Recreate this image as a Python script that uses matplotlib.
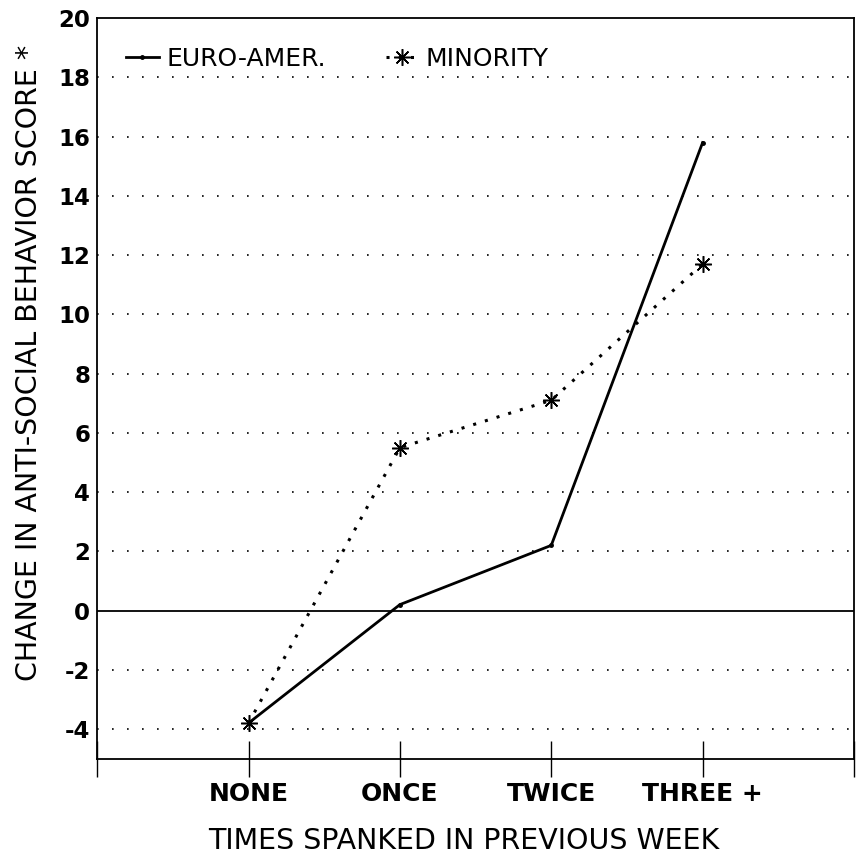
import matplotlib
matplotlib.use('Agg')
import matplotlib.pyplot as plt

# data
categories = ['NONE', 'ONCE', 'TWICE', 'THREE +']
euro_amer = [-3.8, 0.2, 2.2, 15.8]
minority = [-3.8, 5.5, 7.1, 11.7]
grid_levels = [-4, -2, 2, 4, 6, 8, 10, 12, 14, 16, 18]
y_ticks = [-4, -2, 0, 2, 4, 6, 8, 10, 12, 14, 16, 18, 20]

plt.rcParams['font.family'] = ['DejaVu Sans']

fig = plt.figure(figsize=(8.6, 8.66), dpi=100)
ax = fig.add_axes([0.113, 0.124, 0.880, 0.855])

x = list(range(1, len(categories) + 1))

# dotted grid, solid zero line
for g in grid_levels:
    ax.axhline(g, color='black', lw=1.2, ls=(0, (1, 8)), zorder=1)
ax.axhline(0, color='black', lw=1.3, zorder=1)

ax.plot(x, euro_amer, color='black', lw=2.0, marker='.', markersize=5,
        label='EURO-AMER.', zorder=3)
ax.plot(x, minority, color='black', lw=2.2, ls=(0, (1, 3)),
        marker=(8, 2, 0), markersize=12, markeredgewidth=1.1,
        label='MINORITY', zorder=3)

ax.set_xlim(0, 5)
ax.set_ylim(-5, 20)
ax.set_yticks(y_ticks)
ax.set_yticklabels([str(v) for v in y_ticks], fontsize=16.5, fontweight='bold')
ax.tick_params(axis='y', length=0, pad=5)

ax.set_xticks([0, 1, 2, 3, 4, 5])
ax.set_xticklabels([''] + categories + [''], fontsize=18, fontweight='bold')
ax.tick_params(axis='x', direction='inout', length=26, width=1.0, pad=4)

for s in ax.spines.values():
    s.set_linewidth(1.3)

ax.set_xlabel('TIMES SPANKED IN PREVIOUS WEEK', fontsize=20.5)
ax.set_ylabel('CHANGE IN ANTI-SOCIAL BEHAVIOR SCORE *', fontsize=20.5)
ax.yaxis.set_label_coords(-0.072, 0.535)
ax.xaxis.set_label_coords(0.485, -0.092)

ax.legend(loc='upper left', ncol=2, frameon=False, fontsize=18,
          handlelength=1.3, handletextpad=0.3, columnspacing=2.4,
          borderaxespad=0.3, bbox_to_anchor=(0.015, 0.985))

fig.savefig('out.png', dpi=100)
